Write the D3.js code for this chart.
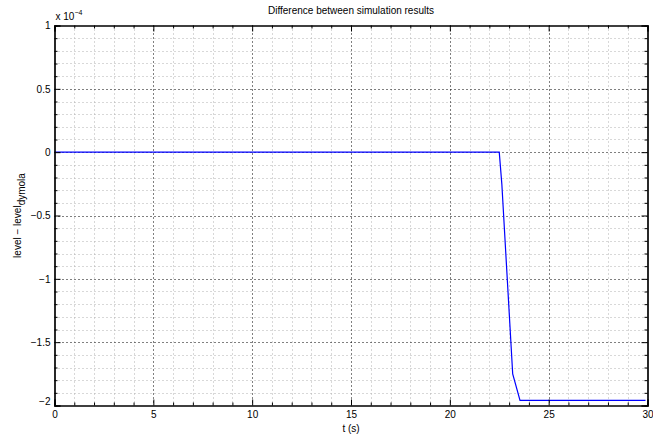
<!DOCTYPE html>
<html><head><meta charset="utf-8">
<script src="https://cdn.jsdelivr.net/npm/d3@7"></script>
<style>body{margin:0;background:#fff}svg{display:block;font-family:"Liberation Sans",Arial,sans-serif}</style>
</head><body><svg id="c" width="653" height="437"></svg>
<script>
const tValues = [0, 22.5, 22.63, 23.18, 23.55, 29.9];
const diffValues = [0, 0, -0.25, -1.75, -1.96, -1.96]; // x 1e-4
const xTicks = [0, 5, 10, 15, 20, 25, 30];
const yTicks = [1, 0.5, 0, -0.5, -1, -1.5, -2];
const xMinor = d3.range(0, 30.01, 1);
const yMinor = d3.range(-2, 1.001, 0.1).map(v => Math.round(v * 10) / 10);
const title = "Difference between simulation results";

const svg = d3.select("#c");
const L = 54.5, R = 647.5, T = 25.5, B = 405.5;
const x = d3.scaleLinear().domain([0, 30]).range([L, R]);
const y = d3.scaleLinear().domain([-2, 1]).range([B, T]);

const g = svg.append("g");
g.selectAll(".mx").data(xMinor.filter(v => v % 5 !== 0)).enter().append("line")
  .attr("x1", d => Math.round(x(d)) + 0.5).attr("x2", d => Math.round(x(d)) + 0.5)
  .attr("y1", T).attr("y2", B).attr("stroke", "#b0b0b0").attr("stroke-width", 1).attr("stroke-dasharray", "1,3");
g.selectAll(".my").data(yMinor.filter(v => Math.abs(v * 2 - Math.round(v * 2)) > 1e-6)).enter().append("line")
  .attr("y1", d => Math.round(y(d)) + 0.5).attr("y2", d => Math.round(y(d)) + 0.5)
  .attr("x1", L).attr("x2", R).attr("stroke", "#b0b0b0").attr("stroke-width", 1).attr("stroke-dasharray", "1,3");
g.selectAll(".Mx").data(xTicks.slice(1, -1)).enter().append("line")
  .attr("x1", d => Math.round(x(d)) + 0.5).attr("x2", d => Math.round(x(d)) + 0.5)
  .attr("y1", T).attr("y2", B).attr("stroke", "#000").attr("stroke-width", 1).attr("stroke-dasharray", "1,3");
g.selectAll(".My").data(yTicks.slice(1, -1)).enter().append("line")
  .attr("y1", d => Math.round(y(d)) + 0.5).attr("y2", d => Math.round(y(d)) + 0.5)
  .attr("x1", L).attr("x2", R).attr("stroke", "#000").attr("stroke-width", 1).attr("stroke-dasharray", "1,3");

svg.append("path").datum(tValues.map((t, i) => [t, diffValues[i]]))
  .attr("d", d3.line().x(d => x(d[0])).y(d => y(d[1])))
  .attr("fill", "none").attr("stroke", "#0000ff").attr("stroke-width", 1.2);

const fmt = v => (v < 0 ? "\u2212" : "") + Math.abs(v);
svg.append("g").attr("transform", `translate(0,${B})`)
  .call(d3.axisBottom(x).tickValues(xTicks).tickSize(-6).tickPadding(5).tickFormat(fmt));
svg.append("g").attr("transform", `translate(0,${T})`)
  .call(d3.axisTop(x).tickValues(xTicks).tickSize(-6).tickFormat(""));
const ay = svg.append("g").attr("transform", `translate(${L},0)`)
  .call(d3.axisLeft(y).tickValues(yTicks).tickSize(-6).tickPadding(4).tickFormat(fmt));
svg.append("g").attr("transform", `translate(${R},0)`)
  .call(d3.axisRight(y).tickValues(yTicks).tickSize(-6).tickFormat(""));
const mtx = xMinor.filter(v => v % 5 !== 0);
const mty = yMinor.filter(v => Math.abs(v * 2 - Math.round(v * 2)) > 1e-6);
svg.append("g").attr("transform", `translate(0,${B})`).call(d3.axisBottom(x).tickValues(mtx).tickSize(-3).tickFormat(""));
svg.append("g").attr("transform", `translate(0,${T})`).call(d3.axisTop(x).tickValues(mtx).tickSize(-3).tickFormat(""));
svg.append("g").attr("transform", `translate(${L},0)`).call(d3.axisLeft(y).tickValues(mty).tickSize(-3).tickFormat(""));
svg.append("g").attr("transform", `translate(${R},0)`).call(d3.axisRight(y).tickValues(mty).tickSize(-3).tickFormat(""));
svg.selectAll(".domain").attr("stroke", "#000").attr("stroke-width", 1.2);
svg.selectAll(".tick line").attr("stroke", "#000");
svg.selectAll(".tick text").attr("font-size", 10).attr("fill", "#000").attr("font-family", "Liberation Sans, Arial, sans-serif");
ay.selectAll(".tick text").filter(d => d === -2).attr("dy", "-0.1em");

const ex = svg.append("text").attr("x", L + 1).attr("y", 20).attr("font-size", 10);
ex.append("tspan").text("x 10");
ex.append("tspan").attr("dy", -5).attr("font-size", 7).text("\u22124");

svg.append("text").attr("x", (L + R) / 2).attr("y", 14).attr("text-anchor", "middle").attr("font-size", 10).text(title);
svg.append("text").attr("x", (L + R) / 2).attr("y", 432).attr("text-anchor", "middle").attr("font-size", 10).text("t (s)");
const yl = svg.append("text").attr("transform", `translate(21,${(T + B) / 2}) rotate(-90)`).attr("text-anchor", "middle").attr("font-size", 10);
yl.append("tspan").text("level \u2212 level");
yl.append("tspan").attr("dy", 4).attr("font-size", 10).text("dymola");
</script></body></html>
